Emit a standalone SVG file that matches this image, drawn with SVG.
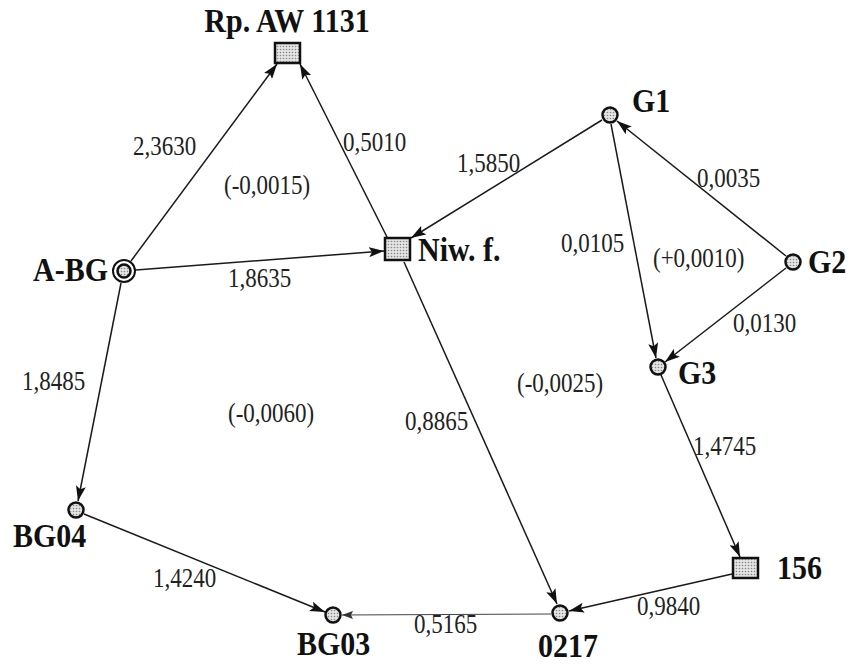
<svg xmlns="http://www.w3.org/2000/svg" width="852" height="664" viewBox="0 0 852 664">
<style>
.n{fill:url(#dots);stroke:#111;stroke-width:2.5}
.e{fill:none;stroke:#1a1a1a;stroke-width:1.5;marker-end:url(#ah)}
.lbl{font-family:"Liberation Serif",serif;font-size:23px;fill:#222}
.nm{font-family:"Liberation Serif",serif;font-size:30px;font-weight:bold;fill:#111}
</style>
<defs>
<pattern id="dots" width="3" height="3" patternUnits="userSpaceOnUse">
<rect width="3" height="3" fill="#e4e4e4"/>
<circle cx="1.5" cy="1.5" r="0.8" fill="#888"/>
</pattern>
<marker id="ah" markerWidth="16" markerHeight="10" refX="15" refY="5" orient="auto" markerUnits="userSpaceOnUse">
<path d="M0,0 L15,5 L0,10 L3,5 z" fill="#111"/>
</marker>
<marker id="ahs" markerWidth="12" markerHeight="8" refX="11" refY="4" orient="auto" markerUnits="userSpaceOnUse">
<path d="M0,0 L11,4 L0,8 L2,4 z" fill="#333"/>
</marker>
</defs>
<rect width="852" height="664" fill="#fff"/>
<g id="connectors">
<line class="e" x1="131" y1="261" x2="277" y2="64"/>
<line class="e" x1="387" y1="237" x2="300" y2="64"/>
<line class="e" x1="136" y1="270" x2="384" y2="251"/>
<line class="e" x1="602" y1="120" x2="411" y2="238"/>
<line class="e" x1="611" y1="124" x2="656" y2="358"/>
<line class="e" x1="786" y1="256" x2="617" y2="121"/>
<line class="e" x1="786" y1="268" x2="665" y2="362"/>
<line class="e" x1="121" y1="283" x2="78" y2="501"/>
<line class="e" x1="84" y1="514" x2="325" y2="612"/>
<line x1="551" y1="614" x2="342" y2="615" stroke="#444" stroke-width="1" marker-end="url(#ahs)"/>
<line class="e" x1="404" y1="262" x2="557" y2="604"/>
<line class="e" x1="661" y1="375" x2="740" y2="557"/>
<line class="e" x1="732" y1="574" x2="569" y2="611"/>
<g class="lbl">
<text transform="translate(133,155) scale(1,1.15)">2,3630</text>
<text transform="translate(343,151) scale(1,1.15)">0,5010</text>
<text transform="translate(224,194) scale(1,1.15)">(-0,0015)</text>
<text transform="translate(457,172) scale(1,1.15)">1,5850</text>
<text transform="translate(697,187) scale(1,1.15)">0,0035</text>
<text transform="translate(561,252) scale(1,1.15)">0,0105</text>
<text transform="translate(653,267) scale(1,1.15)">(+0,0010)</text>
<text transform="translate(733,332) scale(1,1.15)">0,0130</text>
<text transform="translate(228,287) scale(1,1.15)">1,8635</text>
<text transform="translate(22,390) scale(1,1.15)">1,8485</text>
<text transform="translate(228,422) scale(1,1.15)">(-0,0060)</text>
<text transform="translate(517,392) scale(1,1.15)">(-0,0025)</text>
<text transform="translate(405,430) scale(1,1.15)">0,8865</text>
<text transform="translate(693,455) scale(1,1.15)">1,4745</text>
<text transform="translate(153,587) scale(1,1.15)">1,4240</text>
<text transform="translate(414,633) scale(1,1.15)">0,5165</text>
<text transform="translate(637,615) scale(1,1.15)">0,9840</text>
</g>
</g>
<g id="rp">
<rect class="n" x="275" y="43" width="25" height="20"/>
<text class="nm" transform="translate(287,32) scale(1,1.15)" text-anchor="middle">Rp. AW 1131</text>
</g>
<g id="abg">
<circle cx="124" cy="271" r="11" fill="#fff" stroke="#111" stroke-width="2"/>
<circle class="n" cx="124" cy="271" r="6.5" stroke-width="1.8"/>
<text class="nm" transform="translate(108,281) scale(1,1.15)" text-anchor="end">A-BG</text>
</g>
<g id="niw">
<rect class="n" x="385" y="238" width="25" height="22"/>
<text class="nm" transform="translate(418,261) scale(1,1.15)">Niw. f.</text>
</g>
<g id="g1">
<circle class="n" cx="610" cy="115" r="7.5"/>
<text class="nm" transform="translate(632,112) scale(1,1.15)">G1</text>
</g>
<g id="g2">
<circle class="n" cx="793" cy="262" r="7.5"/>
<text class="nm" transform="translate(808,273) scale(1,1.15)">G2</text>
</g>
<g id="g3">
<circle class="n" cx="658" cy="367" r="7.5"/>
<text class="nm" transform="translate(678,384) scale(1,1.15)">G3</text>
</g>
<g id="bg04">
<circle class="n" cx="76" cy="510" r="7.5"/>
<text class="nm" transform="translate(13,547) scale(1,1.15)">BG04</text>
</g>
<g id="bg03">
<circle class="n" cx="333" cy="615" r="7.5"/>
<text class="nm" transform="translate(297,655) scale(1,1.15)">BG03</text>
</g>
<g id="n0217">
<circle class="n" cx="560" cy="613" r="7.5"/>
<text class="nm" transform="translate(538,657) scale(1,1.15)">0217</text>
</g>
<g id="n156">
<rect class="n" x="733" y="558" width="25" height="20"/>
<text class="nm" transform="translate(777,579) scale(1,1.15)">156</text>
</g>
</svg>
